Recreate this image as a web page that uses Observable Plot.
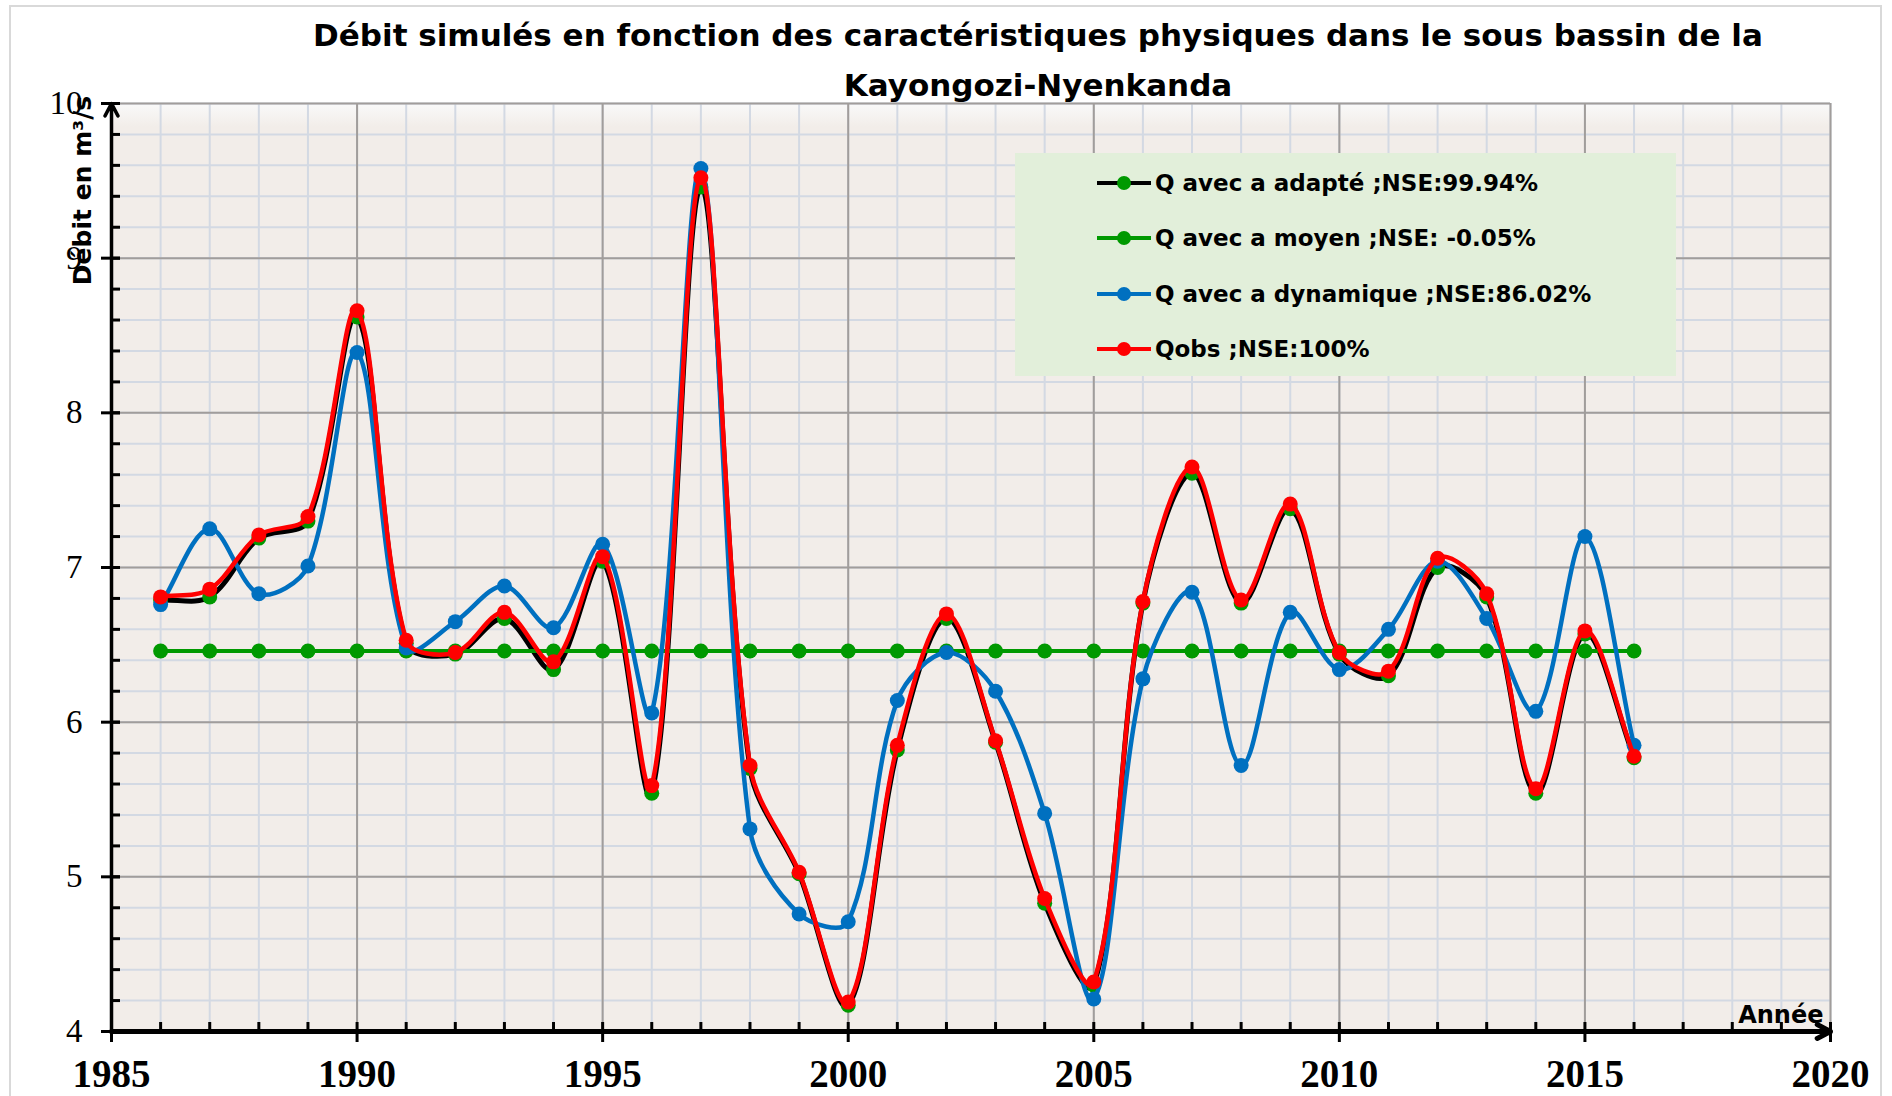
<!DOCTYPE html>
<html>
<head>
<meta charset="utf-8">
<script src="https://cdn.jsdelivr.net/npm/d3@7"></script>
<script src="https://cdn.jsdelivr.net/npm/@observablehq/plot@0.6"></script>
<style>
  html, body { margin: 0; padding: 0; background: #ffffff; }
  #wrap { position: relative; width: 1892px; height: 1096px; overflow: hidden; background: #ffffff; }
  #border { position: absolute; left: 9px; top: 5px; width: 1873px; height: 1100px; border: 2px solid #d9d9d9; box-sizing: border-box; pointer-events: none; }
  #chart { position: absolute; left: 0; top: 0; }
  #title { position: absolute; left: 138px; width: 1800px; top: 10px; text-align: center; white-space: nowrap;
           font-family: "DejaVu Sans", sans-serif; font-weight: bold; font-size: 31px; line-height: 50px; color: #000; }
  #legend { position: absolute; left: 1015px; top: 153px; width: 661px; height: 223px; background: #E2EFDA; }
  .entry { position: absolute; left: 82px; height: 30px; display: flex; align-items: center; white-space: nowrap;
           font-family: "DejaVu Sans", sans-serif; font-weight: bold; font-size: 23px; color: #000; }
  .entry svg { display: block; margin-right: 4px; }
</style>
</head>
<body>
<div id="wrap">
  <div id="chart"></div>
  <div id="title">Débit simulés en fonction des caractéristiques physiques dans le sous bassin de la<br>Kayongozi-Nyenkanda</div>
  <div id="legend"></div>
  <div id="border"></div>
</div>
<script>
// ---- Data ----
const years = [1986, 1987, 1988, 1989, 1990, 1991, 1992, 1993, 1994, 1995, 1996, 1997, 1998, 1999, 2000,
               2001, 2002, 2003, 2004, 2005, 2006, 2007, 2008, 2009, 2010, 2011, 2012, 2013, 2014, 2015, 2016];
const qAdapte = [6.79, 6.81, 7.19, 7.30, 8.62, 6.51, 6.44, 6.67, 6.34, 7.04, 5.54, 9.46, 5.70, 5.02, 4.17,
                 5.82, 6.67, 5.87, 4.83, 4.30, 6.77, 7.61, 6.77, 7.38, 6.44, 6.30, 7.00, 6.81, 5.54, 6.57, 5.77];
const qMoyen = [6.46, 6.46, 6.46, 6.46, 6.46, 6.46, 6.46, 6.46, 6.46, 6.46, 6.46, 6.46, 6.46, 6.46, 6.46,
                6.46, 6.46, 6.46, 6.46, 6.46, 6.46, 6.46, 6.46, 6.46, 6.46, 6.46, 6.46, 6.46, 6.46, 6.46, 6.46];
const qDynamique = [6.76, 7.25, 6.83, 7.01, 8.39, 6.48, 6.65, 6.88, 6.61, 7.15, 6.06, 9.58, 5.31, 4.76, 4.71,
                    6.14, 6.45, 6.20, 5.41, 4.21, 6.28, 6.84, 5.72, 6.71, 6.34, 6.60, 7.04, 6.67, 6.07, 7.20, 5.85];
const qObs = [6.81, 6.86, 7.21, 7.33, 8.66, 6.53, 6.45, 6.71, 6.39, 7.07, 5.59, 9.52, 5.72, 5.03, 4.19,
              5.85, 6.70, 5.88, 4.86, 4.32, 6.78, 7.65, 6.79, 7.41, 6.45, 6.33, 7.06, 6.83, 5.57, 6.59, 5.78];

const seriesLabels = ["Q avec a adapté ;NSE:99.94%", "Q avec a moyen ;NSE: -0.05%",
                      "Q avec a dynamique ;NSE:86.02%", "Qobs ;NSE:100%"];
const xTickLabels = [1985, 1990, 1995, 2000, 2005, 2010, 2015, 2020];
const yTickLabels = [4, 5, 6, 7, 8, 9, 10];
const xDomain = [1985, 2020];
const yDomain = [4, 10];
const yTitle = "Débit en m³/s";
const xTitle = "Année";

// ---- Build table ----
const rows = years.map((year, i) => ({
  year, adapte: qAdapte[i], moyen: qMoyen[i], dynamique: qDynamique[i], obs: qObs[i]
}));
const series = [
  {key: "adapte", line: "#000000", dot: "#009900", w: 5},
  {key: "moyen", line: "#009900", dot: "#009900", w: 4},
  {key: "dynamique", line: "#0070C0", dot: "#0070C0", w: 4.5},
  {key: "obs", line: "#FF0000", dot: "#FF0000", w: 4.5}
];

// Spreadsheet-style smoothing: Bezier segments whose tangents follow the
// neighbouring points, scaled by the relative length of adjacent chords.
function smoothCurve(context) {
  let pts = [];
  const f = 1 / 3;
  return {
    areaStart() {}, areaEnd() {},
    lineStart() { pts = []; },
    point(x, y) { pts.push([+x, +y]); },
    lineEnd() {
      const n = pts.length;
      if (!n) return;
      context.moveTo(pts[0][0], pts[0][1]);
      if (n === 1) return;
      const dist = (a, b) => Math.hypot(b[0] - a[0], b[1] - a[1]);
      const c = pts.map((p, i) => {
        const prev = pts[Math.max(i - 1, 0)], next = pts[Math.min(i + 1, n - 1)];
        const tx = next[0] - prev[0], ty = next[1] - prev[1];
        const dp = dist(prev, p), dn = dist(p, next), s = (dp + dn) || 1;
        return {bx: p[0] - tx * f * dp / s, by: p[1] - ty * f * dp / s,
                ax: p[0] + tx * f * dn / s, ay: p[1] + ty * f * dn / s};
      });
      for (let i = 0; i < n - 1; i++) {
        context.bezierCurveTo(c[i].ax, c[i].ay, c[i + 1].bx, c[i + 1].by, pts[i + 1][0], pts[i + 1][1]);
      }
    }
  };
}

const W = 1892, H = 1096;
const mL = 111, mR = 62, mT = 103, mB = 65;
const plotW = W - mL - mR, plotH = H - mT - mB;
const minorYears = d3.range(xDomain[0], xDomain[1] + 1);
const minorY = d3.range(yDomain[0] * 5, yDomain[1] * 5 + 1).map(d => d / 5);

const serifLabel = "'Liberation Serif', 'Times New Roman', serif";
const sansBold = "'DejaVu Sans', sans-serif";

const marks = [
  Plot.frame({fill: "url(#plotBg)", stroke: null}),
  Plot.gridX(minorYears, {stroke: "#d3d9e3", strokeOpacity: 1, strokeWidth: 2}),
  Plot.gridY(minorY, {stroke: "#d3d9e3", strokeOpacity: 1, strokeWidth: 2}),
  Plot.gridX(xTickLabels, {stroke: "#a19d9b", strokeOpacity: 1, strokeWidth: 2}),
  Plot.gridY(yTickLabels, {stroke: "#a19d9b", strokeOpacity: 1, strokeWidth: 2})
];
for (const s of series) {
  marks.push(Plot.line(rows, {x: "year", y: s.key, stroke: s.line, strokeWidth: s.w, curve: smoothCurve}));
  marks.push(Plot.dot(rows, {x: "year", y: s.key, fill: s.dot, r: 7.5}));
}
marks.push(
  Plot.ruleY(minorY, {stroke: "#000", strokeWidth: 3, insetRight: plotW - 9}),
  Plot.ruleY(yTickLabels, {stroke: "#000", strokeWidth: 3, insetLeft: -10, insetRight: plotW - 9}),
  Plot.ruleX(minorYears, {stroke: "#000", strokeWidth: 3, insetTop: plotH - 9}),
  Plot.ruleX(xTickLabels, {stroke: "#000", strokeWidth: 3, insetTop: plotH, insetBottom: -11}),
  Plot.arrow([0], {x1: xDomain[0], x2: xDomain[0], y1: yDomain[0], y2: yDomain[1],
                   stroke: "#000", strokeWidth: 3.5, headLength: 6, headAngle: 55}),
  Plot.arrow([0], {x1: xDomain[0], x2: xDomain[1], y1: yDomain[0], y2: yDomain[0],
                   stroke: "#000", strokeWidth: 5, headLength: 4.5, headAngle: 55}),
  Plot.axisY(yTickLabels, {tickSize: 0, tickPadding: 29, fontSize: 33, fontFamily: serifLabel,
                           label: null, tickFormat: d => String(d), fill: "#000"}),
  Plot.axisX(xTickLabels, {tickSize: 0, tickPadding: 28, fontSize: 39, fontFamily: serifLabel, fontWeight: "bold",
                           label: null, tickFormat: d => String(d), fill: "#000"}),
  Plot.text([yTitle], {text: d => d, frameAnchor: "top-left", rotate: -90, dx: -29, dy: 87,
                       textAnchor: "middle", lineAnchor: "middle", fontSize: 25, fontWeight: "bold",
                       fontFamily: sansBold, fill: "#000"}),
  Plot.text([xTitle], {text: d => d, frameAnchor: "bottom-right", textAnchor: "end", lineAnchor: "bottom",
                       dx: -7, dy: -9, fontSize: 24, fontWeight: "bold", fontFamily: sansBold, fill: "#000"})
);

const chart = Plot.plot({
  width: W, height: H,
  marginLeft: mL, marginRight: mR, marginTop: mT, marginBottom: mB,
  x: {domain: xDomain, label: null},
  y: {domain: yDomain, label: null},
  style: {background: "transparent", overflow: "visible", fontFamily: sansBold},
  marks
});
d3.select(chart).insert("defs", ":first-child").html(
  `<linearGradient id="plotBg" x1="0" y1="0" x2="0" y2="1">
     <stop offset="0" stop-color="#f9f9f9"/>
     <stop offset="0.025" stop-color="#f2ede9"/>
     <stop offset="1" stop-color="#f2ede9"/>
   </linearGradient>`);
document.getElementById("chart").appendChild(chart);

// ---- Legend ----
const legend = document.getElementById("legend");
const entryTops = [15, 70, 126, 181];
series.forEach((s, i) => {
  const e = document.createElement("div");
  e.className = "entry";
  e.style.top = entryTops[i] + "px";
  e.innerHTML = `<svg width="54" height="30"><line x1="0" y1="15" x2="54" y2="15" stroke="${s.line}" stroke-width="4"/>` +
                `<circle cx="27" cy="15" r="7" fill="${s.dot}"/></svg><span>${seriesLabels[i]}</span>`;
  legend.appendChild(e);
});
</script>
</body>
</html>
